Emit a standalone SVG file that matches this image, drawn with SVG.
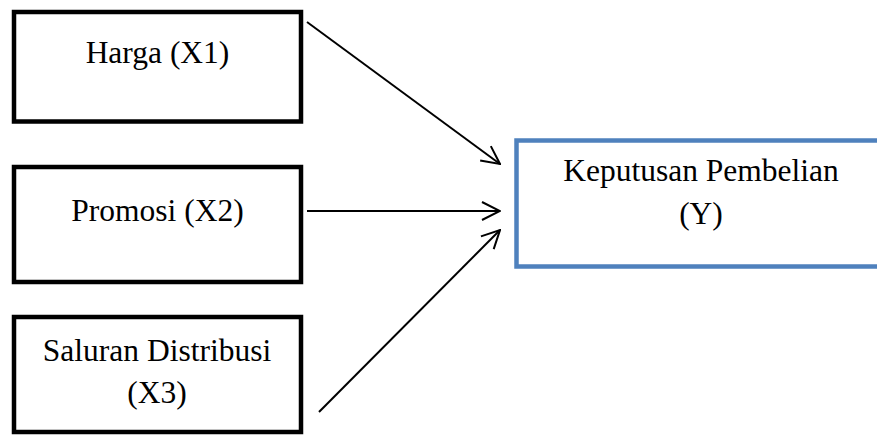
<svg xmlns="http://www.w3.org/2000/svg" width="877" height="435" viewBox="0 0 877 435">
<style>
.box{fill:#fff;stroke:#000;stroke-width:4.5}
.ybox{fill:#fff;stroke:#4F81BD;stroke-width:4.5}
.t{font-family:"Liberation Serif","Times New Roman",serif;font-size:31.5px;fill:#000;text-anchor:middle}
.c{fill:none;stroke:#000;stroke-width:2}
</style>
<defs>
<marker id="arr" viewBox="0 0 20 20" refX="19" refY="10" markerWidth="20" markerHeight="20" markerUnits="userSpaceOnUse" orient="auto">
<path d="M1,1 L19,10 L1,19" fill="none" stroke="#000" stroke-width="2"/>
</marker>
</defs>
<rect width="877" height="435" fill="#fff"/>
<g id="x1">
<rect class="box" x="14" y="12" width="287" height="109.5"/>
<text class="t" x="157.5" y="63.3">Harga (X1)</text>
</g>
<g id="x2">
<rect class="box" x="14" y="167" width="287" height="115"/>
<text class="t" x="157.5" y="220.7">Promosi (X2)</text>
</g>
<g id="x3">
<rect class="box" x="14" y="317" width="287" height="115"/>
<text class="t" x="157" y="360.7">Saluran Distribusi</text>
<text class="t" x="157" y="402.5">(X3)</text>
</g>
<g id="y">
<rect class="ybox" x="516.5" y="140.5" width="380" height="126"/>
<text class="t" x="701" y="180.7">Keputusan Pembelian</text>
<text class="t" x="701" y="223.5">(Y)</text>
</g>
<g id="connectors">
<line class="c" x1="307" y1="22" x2="500" y2="164" marker-end="url(#arr)"/>
<line class="c" x1="307" y1="211" x2="500" y2="211" marker-end="url(#arr)"/>
<line class="c" x1="319" y1="412" x2="500" y2="230" marker-end="url(#arr)"/>
</g>
</svg>
